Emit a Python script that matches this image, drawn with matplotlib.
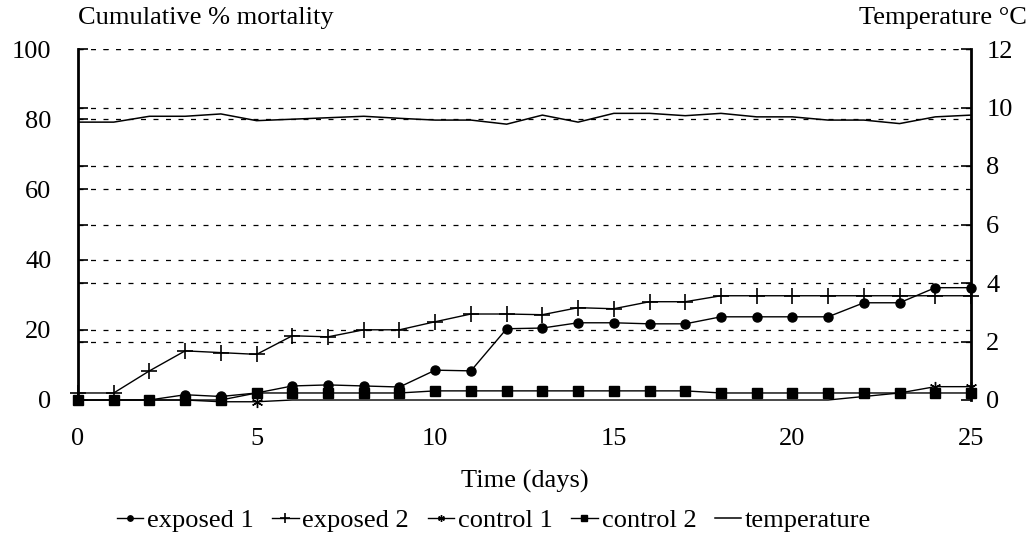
import matplotlib
matplotlib.use("Agg")
import matplotlib.pyplot as plt

plt.rcParams['font.family'] = ['Liberation Serif', 'DejaVu Serif']

days = list(range(0, 26))

exposed1 = [0, 0, 0, 1.5, 1, 2, 4, 4.3, 4, 3.7, 8.5, 8.3, 20.3, 20.5, 22, 22, 21.7, 21.7,
            23.7, 23.7, 23.7, 23.7, 27.7, 27.7, 32, 32]
exposed2 = [2, 2, 8.3, 14, 13.5, 13, 18.3, 18, 20, 20, 22.3, 24.5, 24.5, 24.3, 26.3, 26,
            28, 28, 29.7, 29.7, 29.7, 29.7, 29.7, 29.7, 29.7, 29.7]
control1 = [0, 0, 0, 0, -0.5, -0.5, 0, 0, 0, 0, 0, 0, 0, 0, 0, 0, 0, 0, 0, 0, 0, 0,
            1, 2, 3.8, 3.8]
control2 = [0, 0, 0, 0, 0, 2, 2, 2, 2, 2, 2.6, 2.6, 2.6, 2.6, 2.6, 2.6, 2.6, 2.6,
            2, 2, 2, 2, 2, 2, 2, 2]
temperature = [9.5, 9.5, 9.7, 9.7, 9.78, 9.55, 9.6, 9.65, 9.7, 9.63, 9.57, 9.57, 9.43,
               9.74, 9.5, 9.8, 9.8, 9.72, 9.8, 9.68, 9.68, 9.57, 9.57, 9.45, 9.68, 9.74]

left_ticks = [0, 20, 40, 60, 80, 100]
right_ticks = [0, 2, 4, 6, 8, 10, 12]

W, H = 1035, 548
fig = plt.figure(figsize=(W / 100, H / 100), dpi=100)
ax = fig.add_axes([78 / W, 1 - 400 / H, (971 - 78) / W, 351 / H])
ax2 = ax.twinx()

# dashed grid for both scales
for v in left_ticks[1:]:
    ax.axhline(v, color='black', lw=0.9, ls=(0, (4, 6)), zorder=0)
for v in right_ticks[1:]:
    ax2.axhline(v, color='black', lw=0.9, ls=(0, (4, 6)), zorder=0)

ax.plot(days, exposed1, color='black', lw=1, marker='o', ms=6.5, clip_on=False, label='exposed 1')
ax.plot(days, exposed2, color='black', lw=1, marker='+', ms=11, mew=1.2, clip_on=False, label='exposed 2')
ax.plot(days, control1, color='black', lw=1, marker=(6, 2, 0), ms=8, mew=1,
        markevery=[5, 24, 25], clip_on=False, label='control 1')
ax.plot(days, control2, color='black', lw=1, marker='s', ms=6.5, clip_on=False, label='control 2')
ax2.plot(days, temperature, color='black', lw=1.1, label='temperature')

ax.set_xlim(0, 25)
ax.set_ylim(0, 100)
ax2.set_ylim(0, 12)
ax.set_xticks([0, 5, 10, 15, 20, 25])
ax.set_yticks(left_ticks)
ax.set_yticks([100 * v / 12 for v in right_ticks[1:-1]], minor=True)
ax2.set_yticks(right_ticks)

for s in ['top', 'bottom']:
    ax.spines[s].set_visible(False)
    ax2.spines[s].set_visible(False)
ax.spines['left'].set_linewidth(2)
ax2.spines['left'].set_visible(False)
ax2.spines['right'].set_linewidth(2)
ax.spines['right'].set_visible(False)

ax.tick_params(axis='x', length=0, pad=20, labelsize=19)
ax.tick_params(axis='y', which='major', direction='in', length=7, width=1.2, pad=19, labelsize=19)
ax.tick_params(axis='y', which='minor', direction='in', length=7, width=1.2)
ax2.tick_params(axis='y', direction='in', length=7, width=1.2, pad=11, labelsize=19)

fig.text(78 / W, 1 - 18 / H, 'Cumulative % mortality', fontsize=19, va='center', ha='left')
fig.text(1027 / W, 1 - 18 / H, 'Temperature °C', fontsize=19, va='center', ha='right')
fig.text((78 + 971) / 2 / W, 1 - 481 / H, 'Time (days)', fontsize=19, va='center', ha='center')

h1, l1 = ax.get_legend_handles_labels()
h2, l2 = ax2.get_legend_handles_labels()
fig.legend(h1 + h2, l1 + l2, loc='center', bbox_to_anchor=(494 / W, 1 - 520 / H), ncol=5,
           frameon=False, fontsize=19, handlelength=1.0, handletextpad=0.15,
           columnspacing=0.7, markerscale=0.6)

fig.savefig('out.png', dpi=100)
